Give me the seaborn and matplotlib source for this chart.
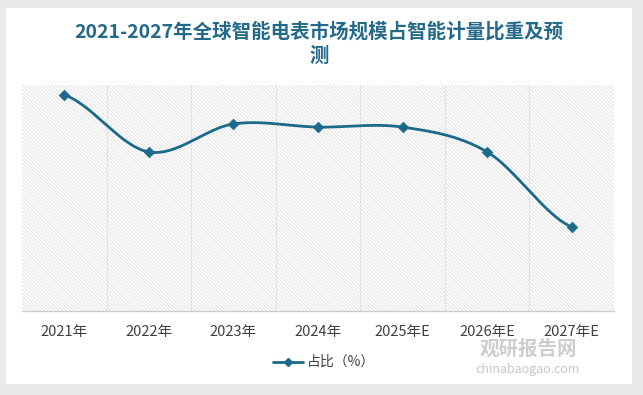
import numpy as np
import pandas as pd
import matplotlib
matplotlib.use("Agg")
import matplotlib.pyplot as plt
from matplotlib.patches import Rectangle
import seaborn as sns

# data (y axis has no labels, scale 0-80 assumed)
years = ['2021年', '2022年', '2023年', '2024年', '2025年E', '2026年E', '2027年E']
share = [76.5, 56.3, 66.2, 65.1, 65.1, 56.3, 29.7]

df = pd.DataFrame({'year': years, 'share': share})

sns.set_theme(style="white")
plt.rcParams['font.family'] = ['Noto Sans CJK SC', 'DejaVu Sans']
plt.rcParams['hatch.color'] = '#d8d8d8'
plt.rcParams['hatch.linewidth'] = 0.5

line_color = '#1b6a8c'
title_color = '#24698a'
text_color = '#404040'

fig = plt.figure(figsize=(6.43, 3.95), dpi=100)
fig.patch.set_facecolor('#e9e9e9')
# white card
fig.patches.append(Rectangle((6 / 643, 1 - 384 / 395), 626 / 643, 376 / 395,
                             transform=fig.transFigure, facecolor='white',
                             edgecolor='none', zorder=-5))

ax = fig.add_axes([22 / 643, 1 - 311 / 395, 592 / 643, 226 / 395])
ax.set_facecolor('white')

# hatched plot background
ax.add_patch(Rectangle((0, 0), 1, 1, transform=ax.transAxes, facecolor='white',
                       edgecolor='#d8d8d8', hatch='\\' * 9, linewidth=0, zorder=0))

# smoothed curve (Catmull-Rom through the points)
x = np.arange(len(share), dtype=float)
y = np.array(share, dtype=float)
xs, ys = [], []
for i in range(len(x) - 1):
    p0 = y[i - 1] if i > 0 else y[i]
    p3 = y[i + 2] if i + 2 < len(y) else y[i + 1]
    p1, p2 = y[i], y[i + 1]
    c1 = p1 + (p2 - p0) / 6
    c2 = p2 - (p3 - p1) / 6
    t = np.linspace(0, 1, 40)
    xs.extend(x[i] + t)
    ys.extend((1 - t) ** 3 * p1 + 3 * (1 - t) ** 2 * t * c1 + 3 * (1 - t) * t ** 2 * c2 + t ** 3 * p2)
ax.plot(xs, ys, color=line_color, linewidth=2.0, zorder=3, solid_capstyle='round')

sns.scatterplot(data=df, x='year', y='share', ax=ax, marker='D', s=30,
                color=line_color, edgecolor=line_color, zorder=4, legend=False)

ax.set_xlim(-0.5, len(years) - 0.5)
ax.set_ylim(0, 80)
ax.set_yticks([])
ax.set_xlabel('')
ax.set_ylabel('')
for b in np.arange(0.5, len(years) - 0.5, 1):
    ax.axvline(b, color='#e2e2e2', linewidth=0.8, zorder=1)

for s in ['top', 'right', 'left']:
    ax.spines[s].set_visible(False)
ax.spines['bottom'].set_color('#cccccc')
ax.spines['bottom'].set_linewidth(1.0)
ax.tick_params(axis='x', length=0, pad=10, labelsize=10.5, labelcolor=text_color)
for lab in ax.get_xticklabels():
    lab.set_fontweight('light')

fig.text(319 / 643, 1 - 32 / 395, '2021-2027年全球智能电表市场规模占智能计量比重及预',
         ha='center', va='center', fontsize=14, fontweight='bold', color=title_color)
fig.text(319 / 643, 1 - 56 / 395, '测', ha='center', va='center',
         fontsize=14, fontweight='bold', color=title_color)

# legend
lx0, lx1, ly = 273 / 643, 303 / 643, 1 - 362 / 395
fig.lines.append(plt.Line2D([lx0, lx1], [ly, ly], transform=fig.transFigure,
                            color=line_color, linewidth=2.0))
fig.lines.append(plt.Line2D([(lx0 + lx1) / 2], [ly], transform=fig.transFigure,
                            color=line_color, marker='D', markersize=4))
fig.text(307 / 643, ly, '占比（%）', ha='left', va='center', fontsize=10, color=text_color)

# watermark
fig.text(528 / 643, 1 - 349 / 395, '观研报告网', ha='center', va='center', fontsize=14,
         fontweight='bold', color='#b8b8b8', alpha=0.7)
fig.text(528 / 643, 1 - 369 / 395, 'chinabaogao.com', ha='center', va='center', fontsize=9,
         color='#b8b8b8', alpha=0.8)

fig.savefig('out.png', dpi=100, facecolor=fig.get_facecolor())
